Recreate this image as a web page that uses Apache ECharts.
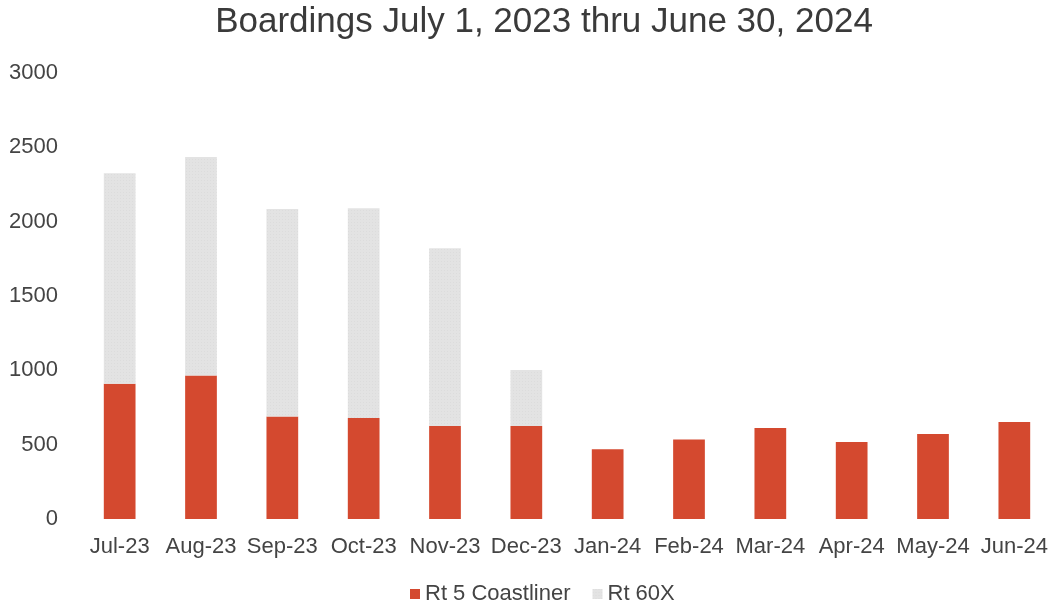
<!DOCTYPE html>
<html>
<head>
<meta charset="utf-8">
<script src="https://cdn.jsdelivr.net/npm/echarts@6/dist/echarts.min.js"></script>
<style>
  html, body { margin: 0; padding: 0; background: #fff; }
  #chart { width: 1055px; height: 613px; }
</style>
</head>
<body>
<div id="chart"></div>
<script>
// data
var months = ['Jul-23', 'Aug-23', 'Sep-23', 'Oct-23', 'Nov-23', 'Dec-23',
  'Jan-24', 'Feb-24', 'Mar-24', 'Apr-24', 'May-24', 'Jun-24']
var rt5Coastliner = [910, 965, 690, 680, 625, 625, 470, 535, 612, 518, 572, 652]
var rt60X = [1415, 1470, 1395, 1410, 1197, 378, 0, 0, 0, 0, 0, 0]

var chart = echarts.init(document.getElementById('chart'))
chart.setOption({
  animation: false,
  title: {
    text: 'Boardings July 1, 2023 thru June 30, 2024',
    left: 539,
    textAlign: 'center',
    top: 0,
    textStyle: {
      fontFamily: 'Liberation Sans',
      fontSize: 35,
      fontWeight: 'normal',
      color: '#3a3a3a'
    }
  },
  legend: {
    bottom: 3,
    left: 405,
    icon: 'rect',
    itemWidth: 10,
    itemHeight: 10,
    itemGap: 22,
    textStyle: {
      fontFamily: 'Liberation Sans',
      fontSize: 22,
      color: '#444'
    },
    data: ['Rt 5 Coastliner', 'Rt 60X']
  },
  grid: {
    left: 79,
    right: 0,
    top: 73,
    bottom: 94
  },
  xAxis: {
    type: 'category',
    data: months,
    axisLine: { show: false },
    axisTick: { show: false },
    axisLabel: {
      fontFamily: 'Liberation Sans',
      fontSize: 22,
      color: '#444',
      margin: 17,
      interval: 0
    }
  },
  yAxis: {
    type: 'value',
    min: 0,
    max: 3000,
    interval: 500,
    splitLine: { show: false },
    axisLine: { show: false },
    axisTick: { show: false },
    axisLabel: {
      fontFamily: 'Liberation Sans',
      fontSize: 22,
      color: '#444',
      margin: 21,
      formatter: function(v) {
        return String(v)
      }
    }
  },
  series: [
    {
      name: 'Rt 5 Coastliner',
      type: 'bar',
      stack: 'boardings',
      barWidth: '39%',
      itemStyle: { color: '#d4492f' },
      data: rt5Coastliner
    },
    {
      name: 'Rt 60X',
      type: 'bar',
      stack: 'boardings',
      barWidth: '39%',
      itemStyle: {
        color: '#e3e3e3',
        decal: {
          symbol: 'rect',
          symbolSize: 0.6,
          dashArrayX: [1, 2],
          dashArrayY: [1, 2],
          color: 'rgba(190,190,190,0.6)',
          rotation: 0
        }
      },
      data: rt60X
    }
  ]
})
</script>
</body>
</html>
